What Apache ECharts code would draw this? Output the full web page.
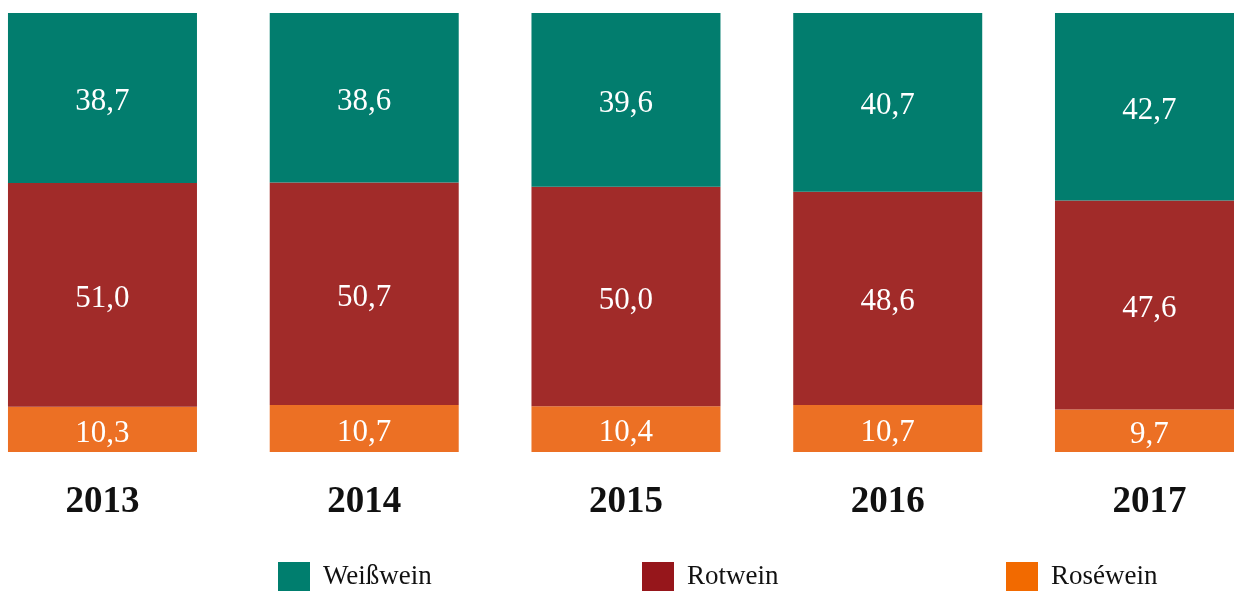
<!DOCTYPE html>
<html><head><meta charset="utf-8">
<script src="https://cdn.jsdelivr.net/npm/echarts@6/dist/echarts.min.js"></script>
<style>html,body{margin:0;padding:0;background:#fff}#c{width:1234px;height:591px}</style>
</head><body><div id="c"></div>
<script>
var years = ['2013','2014','2015','2016','2017'];
var weisswein = [38.7, 38.6, 39.6, 40.7, 42.7];
var rotwein = [51.0, 50.7, 50.0, 48.6, 47.6];
var rosewein = [10.3, 10.7, 10.4, 10.7, 9.7];
var seriesNames = ['Weißwein', 'Rotwein', 'Roséwein'];

var FONT = '"Liberation Serif", "DejaVu Serif", serif';
var fmt = function (p) { return p.value.toFixed(1).replace('.', ','); };
var lbl = { show: true, position: 'inside', offset: [0, 4], color: '#fff', fontFamily: FONT, fontSize: 31, formatter: fmt };

function legendAt(left, name, color) {
  return {
    left: left, top: 562, padding: 0, itemWidth: 32, itemHeight: 30, itemGap: 0,
    icon: 'rect', selectedMode: false,
    textStyle: { fontFamily: FONT, fontSize: 27, color: '#111', padding: [0, 0, 0, 8] },
    data: [{ name: name, itemStyle: { color: color } }]
  };
}

var chart = echarts.init(document.getElementById('c'));
chart.setOption({
  animation: false,
  grid: { left: -28.4, width: 1308.75, top: 13, bottom: 139, containLabel: false, outerBoundsMode: 'none' },
  legend: [
    legendAt(278, seriesNames[0], '#007e6e'),
    legendAt(642, seriesNames[1], '#96161b'),
    legendAt(1006, seriesNames[2], '#f26a00')
  ],
  xAxis: {
    type: 'category', data: years,
    axisLine: { show: false }, axisTick: { show: false },
    axisLabel: { margin: 32, color: '#111', fontFamily: FONT, fontSize: 37, fontWeight: 'bold' }
  },
  yAxis: { type: 'value', min: 0, max: 100, show: false, splitLine: { show: false } },
  series: [
    { name: seriesNames[2], type: 'bar', stack: 's', data: rosewein, barWidth: 189,
      itemStyle: { color: '#ec7024' }, label: lbl },
    { name: seriesNames[1], type: 'bar', stack: 's', data: rotwein, barWidth: 189,
      itemStyle: { color: '#a12b29' }, label: lbl },
    { name: seriesNames[0], type: 'bar', stack: 's', data: weisswein, barWidth: 189,
      itemStyle: { color: '#027d6e' }, label: lbl }
  ]
});
</script></body></html>
